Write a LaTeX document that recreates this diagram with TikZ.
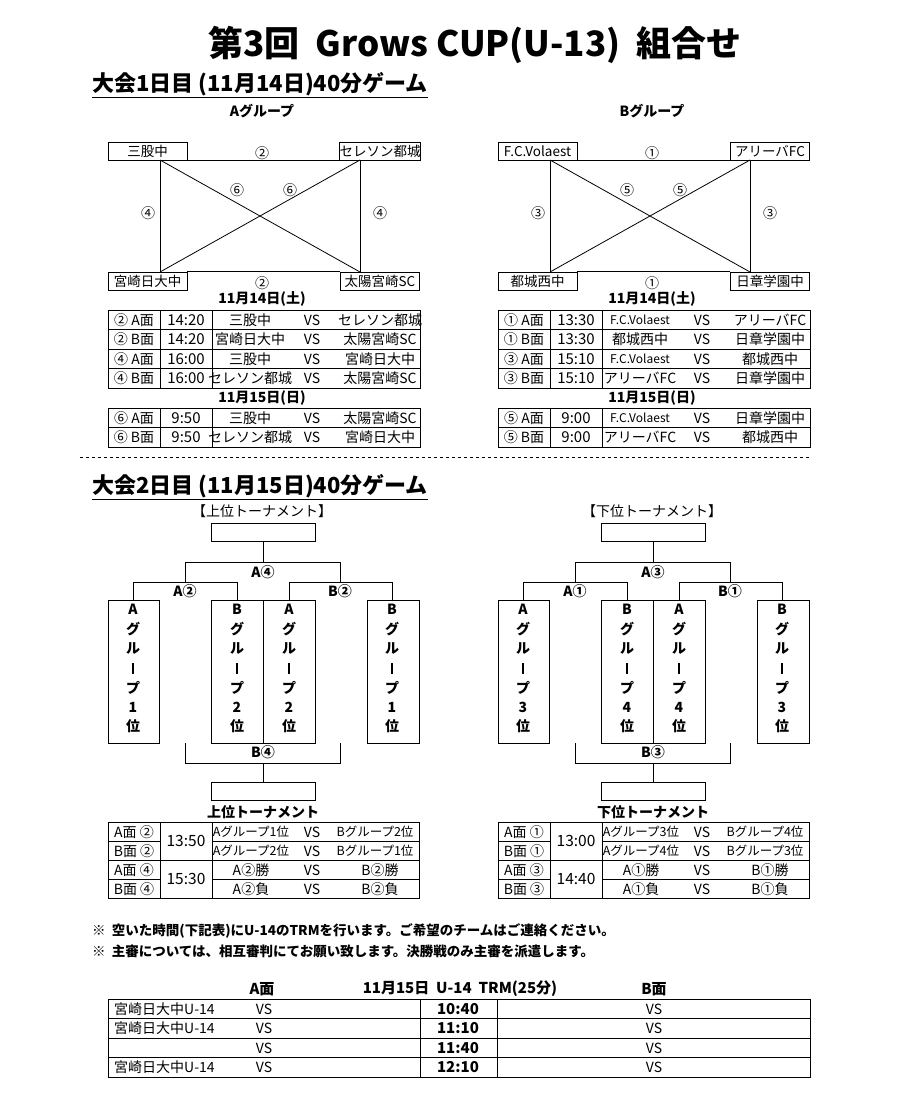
\documentclass[tikz,border=0pt]{standalone}
\usepackage{fontspec}
\setmainfont{Noto Sans CJK JP}
\newcommand{\fs}[1]{\fontsize{#1}{#1}\selectfont}
\begin{document}
\begin{tikzpicture}[x=1pt,y=-1pt,
  ln/.style={line width=0.8pt},
  tx/.style={inner sep=0,font=\fs{14}},
  sm/.style={inner sep=0,font=\fs{12.5}},
  bt/.style={inner sep=0,font=\fs{14}\bfseries},
  hd/.style={inner sep=0,font=\fs{22}\bfseries}]
\useasboundingbox (0,0) rectangle (900,1118);
\node[inner sep=0,font=\fs{35}\bfseries] (title) at (475,45) {第3回\ \ Grows CUP(U-13)\ \ 組合せ};
\node[hd,anchor=west] (d1) at (92,85) {\underline{大会1日目 (11月14日)40分ゲーム}};
\node[bt] (ga) at (262,111) {Aグループ};
\node[bt] (gb) at (652,111) {Bグループ};
% group diagrams
\newcommand{\grp}[9]{%
\begin{scope}[xshift=#1]
\node[draw,ln,inner sep=0,minimum width=79pt,minimum height=18pt,font=\fs{13.5}] (#2a) at (147.5,151) {#3};
\node[draw,ln,inner sep=0,minimum width=79pt,minimum height=18pt,font=\fs{13.5}] (#2b) at (380,151) {#4};
\node[draw,ln,inner sep=0,minimum width=79pt,minimum height=18pt,font=\fs{13.5}] (#2c) at (147.5,281) {#5};
\node[draw,ln,inner sep=0,minimum width=79pt,minimum height=18pt,font=\fs{13.5}] (#2d) at (380,281) {#6};
\coordinate (#2p) at (160,160); \coordinate (#2q) at (360,160);
\coordinate (#2r) at (160,272); \coordinate (#2s) at (360,272);
\draw[ln] (#2a.south east) -- (#2b.south west);
\draw[ln] (#2c.north east) -- (#2d.north west);
\draw[ln] (#2p) -- (#2r); \draw[ln] (#2q) -- (#2s);
\draw[ln] (#2p) -- (#2s); \draw[ln] (#2r) -- (#2q);
\node[tx] (#2l1) at (262,153) {#7};
\node[tx] (#2l2) at (262,283) {#7};
\node[tx] (#2l3) at (237,190) {#8};
\node[tx] (#2l4) at (290,190) {#8};
\node[tx] (#2l5) at (148,213) {#9};
\node[tx] (#2l6) at (380,213) {#9};
\end{scope}}
\grp{0}{A}{三股中}{セレソン都城}{宮崎日大中}{太陽宮崎SC}{②}{⑥}{④}
\grp{390}{B}{F.C.Volaest}{アリーバFC}{都城西中}{日章学園中}{①}{⑤}{③}
% day1 tables
\newcommand{\row}[7]{%
\begin{scope}[xshift=#1]
\draw[ln] (108,#2) rectangle (420,#2+19.5);
\draw[ln] (160,#2) -- (160,#2+19.5); \draw[ln] (212,#2) -- (212,#2+19.5);
\node[tx] (#3a) at (134,#2+10) {#4};
\node[inner sep=0,font=\fs{15}] (#3b) at (186,#2+10) {#5};
\node[tx] (#3c) at (250,#2+10) {#6};
\node[tx] (#3d) at (312,#2+10) {VS};
\node[tx] (#3e) at (380,#2+10) {#7};
\end{scope}}
\node[bt] (da1) at (262,299) {11月14日(土)};
\node[bt] (db1) at (652,299) {11月14日(土)};
\node[bt] (da2) at (262,398) {11月15日(日)};
\node[bt] (db2) at (652,398) {11月15日(日)};
\row{0}{310}{ra1}{② A面}{14:20}{三股中}{セレソン都城}
\row{0}{329.5}{ra2}{② B面}{14:20}{宮崎日大中}{太陽宮崎SC}
\row{0}{349}{ra3}{④ A面}{16:00}{三股中}{宮崎日大中}
\row{0}{368.5}{ra4}{④ B面}{16:00}{セレソン都城}{太陽宮崎SC}
\row{0}{408}{ra5}{⑥ A面}{9:50}{三股中}{太陽宮崎SC}
\row{0}{427.5}{ra6}{⑥ B面}{9:50}{セレソン都城}{宮崎日大中}
\row{390}{310}{rb1}{① A面}{13:30}{\fs{12}F.C.Volaest}{アリーバFC}
\row{390}{329.5}{rb2}{① B面}{13:30}{都城西中}{日章学園中}
\row{390}{349}{rb3}{③ A面}{15:10}{\fs{12}F.C.Volaest}{都城西中}
\row{390}{368.5}{rb4}{③ B面}{15:10}{アリーバFC}{日章学園中}
\row{390}{408}{rb5}{⑤ A面}{9:00}{\fs{12}F.C.Volaest}{日章学園中}
\row{390}{427.5}{rb6}{⑤ B面}{9:00}{アリーバFC}{都城西中}
\coordinate (dl1) at (80,457); \coordinate (dl2) at (810,457);
\draw[dashed,line width=0.6pt] (dl1) -- (dl2);
\node[hd,anchor=west] (d2) at (92,487) {\underline{大会2日目 (11月15日)40分ゲーム}};
% tournaments
\newcommand{\tour}[9]{%
\begin{scope}[xshift=#1]
\node[inner sep=0,font=\fs{14}] (#2h) at (262,511) {#3};
\node[draw,ln,minimum width=104pt,minimum height=18pt,inner sep=0] (#2top) at (263,532) {};
\node[draw,ln,minimum width=104pt,minimum height=18pt,inner sep=0] (#2bot) at (263,791) {};
\draw[ln] (#2top.south) -- (263,562) coordinate(#2m);
\draw[ln] (185,582) -- (185,562) -- (340,562) -- (340,582);
\draw[ln] (133,600) -- (133,582) -- (237,582) -- (237,600);
\draw[ln] (289,600) -- (289,582) -- (392,582) -- (392,600);
\node[bt] (#2s1) at (263,572) {#4};
\node[bt] (#2s2) at (185,591) {#5};
\node[bt] (#2s3) at (340,591) {#6};
\draw[ln] (108,600) rectangle (159,743);
\draw[ln] (211,600) rectangle (315,743); \draw[ln] (263,600) -- (263,743);
\draw[ln] (367,600) rectangle (419,743);
\foreach \xx/\g/\n in {133/A/#7,237/B/#8,289/A/#8,392/B/#7}{
  \foreach \c [count=\i] in {\g,グ,ル,|,プ,\n,位}{
    \node[bt] at (\xx,590+\i*19.5) {\ifnum\i=4 \rule{1.6pt}{11pt}\else\c\fi};}}
\draw[ln] (185,743) -- (185,763) -- (340,763) -- (340,743);
\draw[ln] (263,763) -- (#2bot.north);
\node[bt] (#2s4) at (263,752) {#9};
\end{scope}}
\tour{0}{U}{【上位トーナメント】}{A④}{A②}{B②}{1}{2}{B④}
\tour{390}{L}{【下位トーナメント】}{A③}{A①}{B①}{3}{4}{B③}
% tournament tables
\newcommand{\ttab}[7]{%
\begin{scope}[xshift=#1]
\node[bt] (#2h) at (263,812) {#3};
\draw[ln] (108,822) rectangle (419,898);
\draw[ln] (160,822) -- (160,898); \draw[ln] (212,822) -- (212,898);
\draw[ln] (108,841) -- (160,841); \draw[ln] (212,841) -- (419,841);
\draw[ln] (108,860) -- (419,860);
\draw[ln] (108,879) -- (160,879); \draw[ln] (212,879) -- (419,879);
\node[tx] (#2a) at (134,832) {A面 #4};
\node[tx] (#2b) at (134,851) {B面 #4};
\node[tx] (#2c) at (134,870) {A面 #5};
\node[tx] (#2d) at (134,889) {B面 #5};
\node[inner sep=0,font=\fs{15.5}] (#2t1) at (186,841) {#6};
\node[inner sep=0,font=\fs{15.5}] (#2t2) at (186,879) {#7};
\foreach \yy in {832,851,870,889}{\node[tx] at (312,\yy) {VS};}
\end{scope}}
\ttab{0}{UT}{上位トーナメント}{②}{④}{13:50}{15:30}
\ttab{390}{LT}{下位トーナメント}{①}{③}{13:00}{14:40}
\node[sm] (u1) at (251,832) {Aグループ1位}; \node[sm] (u2) at (375,832) {Bグループ2位};
\node[sm] (u3) at (251,851) {Aグループ2位}; \node[sm] (u4) at (375,851) {Bグループ1位};
\node[tx] (u5) at (251,870) {A②勝}; \node[tx] (u6) at (380,870) {B②勝};
\node[tx] (u7) at (251,889) {A②負}; \node[tx] (u8) at (380,889) {B②負};
\node[sm] (l1) at (641,832) {Aグループ3位}; \node[sm] (l2) at (765,832) {Bグループ4位};
\node[sm] (l3) at (641,851) {Aグループ4位}; \node[sm] (l4) at (765,851) {Bグループ3位};
\node[tx] (l5) at (641,870) {A①勝}; \node[tx] (l6) at (770,870) {B①勝};
\node[tx] (l7) at (641,889) {A①負}; \node[tx] (l8) at (770,889) {B①負};
% notes
\node[inner sep=0,font=\fs{13.5}\bfseries,anchor=west] (n1) at (92,931) {※\ \ 空いた時間(下記表)にU-14のTRMを行います。ご希望のチームはご連絡ください。};
\node[inner sep=0,font=\fs{13.5}\bfseries,anchor=west] (n2) at (92,951) {※\ \ 主審については、相互審判にてお願い致します。決勝戦のみ主審を派遣します。};
% bottom table
\node[inner sep=0,font=\fs{15}\bfseries] (ha) at (262,989) {A面};
\node[inner sep=0,font=\fs{15}\bfseries] (hm) at (460,989) {11月15日\ \ U-14\ \ TRM(25分)};
\node[inner sep=0,font=\fs{15}\bfseries] (hb) at (654,989) {B面};
\draw[ln] (108,999) rectangle (810,1077);
\foreach \yy in {1018.5,1038,1057.5}{\draw[ln] (108,\yy) -- (810,\yy);}
\draw[ln] (420,999) -- (420,1077); \draw[ln] (497,999) -- (497,1077);
\foreach \yy/\tt/\nm [count=\k] in {1009/10:40/宮崎日大中U-14,1028/11:10/宮崎日大中U-14,1048/11:40/{},1067/12:10/宮崎日大中U-14}{
  \node[tx,anchor=west] (bn\k) at (114,\yy) {\nm};
  \node[tx] (bv\k) at (264,\yy) {VS};
  \node[inner sep=0,font=\fs{15}\bfseries] (bt\k) at (458,\yy) {\tt};
  \node[tx] (bw\k) at (654,\yy) {VS};}
\end{tikzpicture}
\end{document}
